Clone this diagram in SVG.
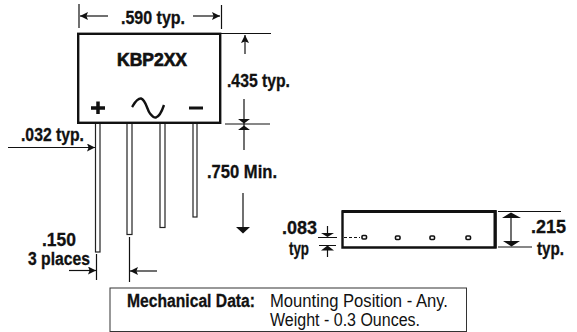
<svg xmlns="http://www.w3.org/2000/svg" width="577" height="332" viewBox="0 0 577 332">
<style>
text{font-family:"Liberation Sans Narrow","Liberation Sans",Arial,sans-serif;font-weight:700;font-size:18px;fill:#111;stroke:#111;stroke-width:.3}
.n{font-weight:400;stroke-width:0}
.l{fill:none;stroke:#111;stroke-width:1.2}
.b{fill:none;stroke:#111;stroke-width:2.400}
.lead{fill:#fff;stroke:#222;stroke-width:1.200}
.pad{fill:#fff;stroke:#111;stroke-width:1.600}
.h{fill:#111}
</style>
<defs>
<marker id="a" viewBox="0 0 10 10" refX="10" refY="5" markerWidth="8" markerHeight="8" markerUnits="userSpaceOnUse" orient="auto-start-reverse"><path d="M0 0L10 5L0 10L2 5Z" fill="#111"/></marker>
</defs>
<g id="leads">
<rect class="lead" x="95.500" y="123" width="4.500" height="129"/>
<rect class="lead" x="127" y="123" width="5" height="111.500"/>
<rect class="lead" x="160" y="123" width="5" height="104.500"/>
<rect class="lead" x="193" y="123" width="4" height="94"/>
</g>
<g id="body">
<rect class="b" x="78.200" y="33.800" width="142" height="89"/>
<text x="117" y="66" font-size="20" textLength="70" lengthAdjust="spacingAndGlyphs" style="stroke-width:.7">KBP2XX</text>
<path d="M91 108H105M98 101.500V114" fill="none" stroke="#111" stroke-width="3.500"/>
<path d="M132 107C134 104 137 98 141 98.500C146 100 147 110 150 113.500C152 116 154 118 156 117.500C160 116 162 111 164 105" fill="none" stroke="#111" stroke-width="2.400"/>
<path d="M189 108H203" fill="none" stroke="#111" stroke-width="3"/>
</g>
<g id="side-view">
<path d="M342.500 247.500V211.500H495.500V247.500Z" fill="none" stroke="#111" stroke-width="2.400"/>
<path d="M342 211.500H496.500M495 211V248" fill="none" stroke="#111" stroke-width="3"/>
<path d="M344 237.500H360" fill="none" stroke="#111" stroke-width="1.200" stroke-dasharray="3 2"/>
<rect class="pad" x="362" y="235.500" width="4.500" height="3.500" rx="1"/>
<rect class="pad" x="395.500" y="236" width="4.500" height="3.500" rx="1"/>
<rect class="pad" x="430" y="236" width="4.500" height="3.500" rx="1"/>
<rect class="pad" x="466" y="236" width="4.500" height="3.500" rx="1"/>
</g>
<g id="connectors">
<path class="l" d="M79 4V28M221.500 5V29"/>
<path class="l" d="M108 16H80" marker-end="url(#a)"/>
<path class="l" d="M193 16H220" marker-end="url(#a)"/>
<path class="l" d="M220 33.500H271M225 124H270"/>
<path class="l" d="M245 54V35" marker-end="url(#a)"/>
<path class="l" d="M244 99V150"/>
<path class="h" d="M238 119H250L244 123.500ZM238 130H250L244 125.500Z"/>
<path class="l" d="M243 193V228" stroke-width="1.500"/>
<path class="h" d="M236 227H250L243 233.500Z"/>
<path class="l" d="M8 147.500H95" marker-end="url(#a)"/>
<path class="l" d="M96.500 254V280M129.500 237V282"/>
<path class="l" d="M69 270.500H96" marker-end="url(#a)"/>
<path class="l" d="M157 271H130" marker-end="url(#a)"/>
<path class="l" d="M498 211.500H561M498 247H532"/>
<path class="l" d="M511 214V245" stroke-width="1.500"/>
<path class="h" d="M502 218H521L511 212.500ZM503 241H520L511.500 246.500Z"/>
<path class="l" d="M318 237.500H337M327.500 226V236"/>
<path class="h" d="M321 233H334L327.500 237Z"/>
<path class="l" d="M319 245.500H336M327.500 246V257"/>
<path class="h" d="M321 250.500H334L327.500 245.500Z"/>
</g>
<g id="labels">
<text x="121" y="24" textLength="64" lengthAdjust="spacingAndGlyphs">.590 typ.</text>
<text x="227" y="87" textLength="63" lengthAdjust="spacingAndGlyphs">.435 typ.</text>
<text x="207" y="178" textLength="70" lengthAdjust="spacingAndGlyphs">.750 Min.</text>
<text x="21" y="141" textLength="63" lengthAdjust="spacingAndGlyphs">.032 typ.</text>
<text x="42" y="246" font-size="16.500" textLength="34" lengthAdjust="spacingAndGlyphs">.150</text>
<text x="28" y="265" font-size="15" textLength="62" lengthAdjust="spacingAndGlyphs">3 places</text>
<text x="282" y="234" textLength="35" lengthAdjust="spacingAndGlyphs">.083</text>
<text x="289" y="255" font-size="16" textLength="20" lengthAdjust="spacingAndGlyphs">typ</text>
<text x="531" y="233" textLength="35" lengthAdjust="spacingAndGlyphs">.215</text>
<text x="537" y="255" font-size="16" textLength="27" lengthAdjust="spacingAndGlyphs">typ.</text>
</g>
<g id="mechanical-data">
<rect x="110" y="288" width="356.500" height="43.500" fill="#fff" stroke="#333" stroke-width="1"/>
<text x="127" y="307" font-size="16" textLength="128" lengthAdjust="spacingAndGlyphs">Mechanical Data:</text>
<text class="n" x="270" y="307" font-size="15" textLength="178" lengthAdjust="spacingAndGlyphs">Mounting Position - Any.</text>
<text class="n" x="270" y="325.500" font-size="15" textLength="150" lengthAdjust="spacingAndGlyphs">Weight - 0.3 Ounces.</text>
</g>
</svg>
